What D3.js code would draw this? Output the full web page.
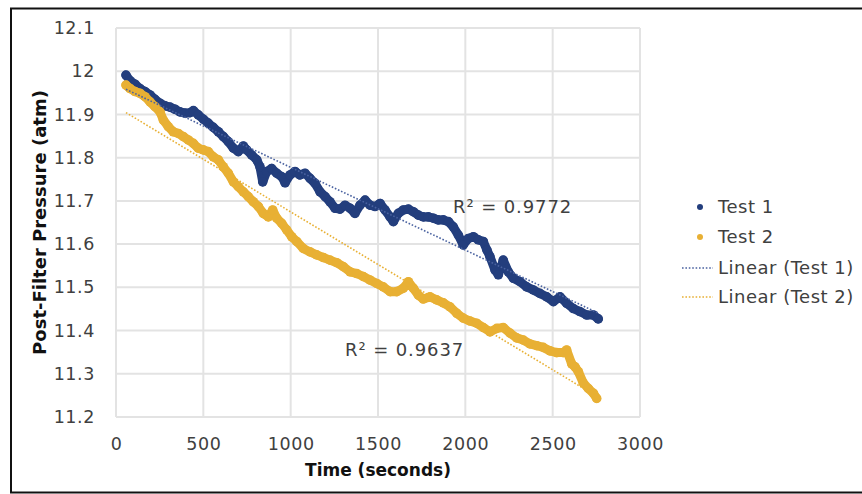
<!DOCTYPE html>
<html>
<head>
<meta charset="utf-8">
<script src="https://cdn.jsdelivr.net/npm/d3@7"></script>
<style>
  html, body { margin: 0; padding: 0; background: #fff; }
  svg { display: block; font-family: "DejaVu Sans", Verdana, sans-serif; }
</style>
</head>
<body>
<svg id="chart" width="862" height="494"></svg>
<script>
// Test 1 readings: time (s) and post-filter pressure (atm)
const test1Time = [57,80,109,137,166,195,223,252,281,309,338,366,395,424,443,471,500,528,557,586,614,643,672,700,729,748,777,806,824,840,863,891,920,949,968,996,1025,1053,1082,1111,1139,1168,1197,1225,1254,1282,1311,1340,1368,1397,1426,1454,1483,1512,1540,1569,1588,1616,1645,1674,1702,1731,1759,1788,1817,1845,1874,1903,1931,1960,1988,2017,2046,2074,2103,2124,2141,2170,2189,2217,2246,2275,2313,2351,2389,2427,2466,2504,2542,2580,2618,2656,2695,2733,2761];
const test1Pressure = [11.991,11.978,11.970,11.960,11.953,11.945,11.935,11.926,11.920,11.917,11.912,11.906,11.903,11.904,11.909,11.899,11.889,11.880,11.870,11.860,11.849,11.837,11.822,11.814,11.827,11.818,11.806,11.795,11.779,11.744,11.768,11.775,11.764,11.756,11.742,11.760,11.768,11.760,11.764,11.752,11.741,11.721,11.710,11.698,11.683,11.681,11.690,11.683,11.671,11.690,11.702,11.690,11.687,11.694,11.679,11.663,11.652,11.671,11.679,11.681,11.675,11.667,11.663,11.663,11.660,11.656,11.656,11.652,11.640,11.621,11.598,11.613,11.617,11.610,11.606,11.586,11.571,11.540,11.529,11.563,11.536,11.521,11.513,11.501,11.494,11.486,11.478,11.467,11.478,11.463,11.451,11.444,11.436,11.436,11.427];

// Test 2 readings
const test2Time = [57,80,109,137,166,195,223,252,271,299,328,357,385,414,443,471,500,528,557,586,614,643,672,700,729,757,786,815,843,872,897,920,949,977,1006,1035,1072,1111,1149,1187,1225,1264,1301,1340,1378,1416,1454,1493,1530,1569,1607,1645,1674,1702,1731,1759,1798,1836,1874,1912,1951,1988,2027,2065,2103,2141,2180,2217,2256,2294,2332,2370,2409,2446,2485,2523,2561,2580,2609,2628,2647,2675,2704,2733,2752];
const test2Pressure = [11.968,11.960,11.953,11.949,11.941,11.929,11.918,11.906,11.887,11.872,11.860,11.856,11.849,11.841,11.833,11.822,11.818,11.814,11.802,11.795,11.779,11.764,11.744,11.733,11.721,11.710,11.698,11.687,11.671,11.663,11.679,11.660,11.648,11.633,11.617,11.606,11.590,11.582,11.575,11.569,11.563,11.557,11.548,11.536,11.532,11.525,11.517,11.509,11.501,11.490,11.490,11.498,11.513,11.498,11.482,11.473,11.478,11.471,11.464,11.455,11.440,11.429,11.422,11.417,11.407,11.397,11.405,11.407,11.394,11.383,11.378,11.369,11.365,11.361,11.353,11.349,11.349,11.355,11.323,11.316,11.305,11.279,11.266,11.255,11.243];

const seriesNames = ["Test 1", "Test 2"];
const trendNames = ["Linear (Test 1)", "Linear (Test 2)"];
const rSquaredLabels = ["R² = 0.9772", "R² = 0.9637"];
const xTicks = [0, 500, 1000, 1500, 2000, 2500, 3000];
const yTicks = [11.2, 11.3, 11.4, 11.5, 11.6, 11.7, 11.8, 11.9, 12, 12.1];

const colors = ["#233e7d", "#e8b034"];
const trendColors = ["#4a62a0", "#e8b034"];

const svg = d3.select("#chart");
const plot = { left: 116, right: 640, top: 28, bottom: 417 };

const x = d3.scaleLinear().domain([0, 3000]).range([plot.left, plot.right]);
const y = d3.scaleLinear().domain([11.2, 12.1]).range([plot.bottom, plot.top]);

// outer chart frame
svg.append("rect")
  .attr("x", 11).attr("y", 8.5)
  .attr("width", 870).attr("height", 484)
  .attr("fill", "none").attr("stroke", "#111").attr("stroke-width", 2);

// gridlines
const grid = svg.append("g").attr("stroke", "#e3e3e3").attr("stroke-width", 2);
grid.selectAll("line.v").data(xTicks).join("line")
  .attr("x1", d => x(d)).attr("x2", d => x(d))
  .attr("y1", plot.top).attr("y2", plot.bottom);
grid.selectAll("line.h").data(yTicks).join("line")
  .attr("y1", d => y(d)).attr("y2", d => y(d))
  .attr("x1", plot.left).attr("x2", plot.right);

// axes: labels only, no domain or tick marks
const xAxis = svg.append("g")
  .attr("transform", `translate(0,${plot.bottom + 18})`)
  .call(d3.axisBottom(x).tickValues(xTicks).tickSize(0).tickFormat(d3.format("d")));
const yAxis = svg.append("g")
  .attr("transform", `translate(${plot.left - 18},0)`)
  .call(d3.axisLeft(y).tickValues(yTicks).tickSize(0).tickFormat(d => String(+d.toFixed(1))));
[xAxis, yAxis].forEach(a => {
  a.select(".domain").remove();
  a.selectAll("text")
    .attr("font-family", "DejaVu Sans, Verdana, sans-serif")
    .attr("font-size", 17.5).attr("letter-spacing", 0.6).attr("fill", "#404040");
});

// axis titles
svg.append("text")
  .attr("x", (plot.left + plot.right) / 2).attr("y", 476)
  .attr("text-anchor", "middle")
  .attr("font-size", 17).attr("font-weight", "bold").attr("fill", "#111")
  .text("Time (seconds)");
svg.append("text")
  .attr("transform", `translate(46,${(plot.top + plot.bottom) / 2}) rotate(-90)`)
  .attr("text-anchor", "middle")
  .attr("font-size", 18).attr("font-weight", "bold").attr("fill", "#111")
  .text("Post-Filter Pressure (atm)");

const series = [
  { name: seriesNames[0], pts: test1Time.map((t, i) => [t, test1Pressure[i]]) },
  { name: seriesNames[1], pts: test2Time.map((t, i) => [t, test2Pressure[i]]) }
];

// dense sampled readings: joined band plus markers
const line = d3.line().x(d => x(d[0])).y(d => y(d[1]));
series.forEach((s, i) => {
  const g = svg.append("g");
  g.append("path")
    .attr("d", line(s.pts))
    .attr("fill", "none").attr("stroke", colors[i])
    .attr("stroke-width", 9).attr("stroke-linejoin", "round").attr("stroke-linecap", "round");
  g.selectAll("circle").data(s.pts).join("circle")
    .attr("cx", d => x(d[0])).attr("cy", d => y(d[1])).attr("r", 4.8)
    .attr("fill", colors[i]);
});

// least-squares linear trendlines
function fit(pts) {
  const mx = d3.mean(pts, d => d[0]), my = d3.mean(pts, d => d[1]);
  let sxy = 0, sxx = 0;
  pts.forEach(([a, b]) => { sxy += (a - mx) * (b - my); sxx += (a - mx) * (a - mx); });
  const slope = sxy / sxx;
  return { slope, intercept: my - slope * mx };
}
series.forEach((s, i) => {
  const f = fit(s.pts);
  const [t0, t1] = d3.extent(s.pts, d => d[0]);
  svg.append("line")
    .attr("x1", x(t0)).attr("y1", y(f.intercept + f.slope * t0))
    .attr("x2", x(t1)).attr("y2", y(f.intercept + f.slope * t1))
    .attr("stroke", trendColors[i]).attr("stroke-width", 1.6)
    .attr("stroke-dasharray", "1.6,1.8");
});

// R² annotations
const rPos = [[453, 213], [345, 356]];
rSquaredLabels.forEach((txt, i) => {
  svg.append("text")
    .attr("x", rPos[i][0]).attr("y", rPos[i][1])
    .attr("font-size", 18).attr("letter-spacing", 0.9).attr("fill", "#404040")
    .text(txt);
});

// legend
const legend = svg.append("g").attr("font-size", 18).attr("letter-spacing", 0.5).attr("fill", "#404040");
const legendY = [207, 237, 268, 297];
seriesNames.forEach((name, i) => {
  legend.append("circle").attr("cx", 700).attr("cy", legendY[i]).attr("r", 3).attr("fill", colors[i]);
  legend.append("text").attr("x", 718).attr("y", legendY[i]).attr("dy", "0.36em").text(name);
});
trendNames.forEach((name, i) => {
  const yy = legendY[i + 2];
  legend.append("line").attr("x1", 682).attr("x2", 713).attr("y1", yy).attr("y2", yy)
    .attr("stroke", trendColors[i]).attr("stroke-width", 1.6).attr("stroke-dasharray", "1.6,1.8");
  legend.append("text").attr("x", 718).attr("y", yy).attr("dy", "0.36em").text(name);
});
</script>
</body>
</html>
